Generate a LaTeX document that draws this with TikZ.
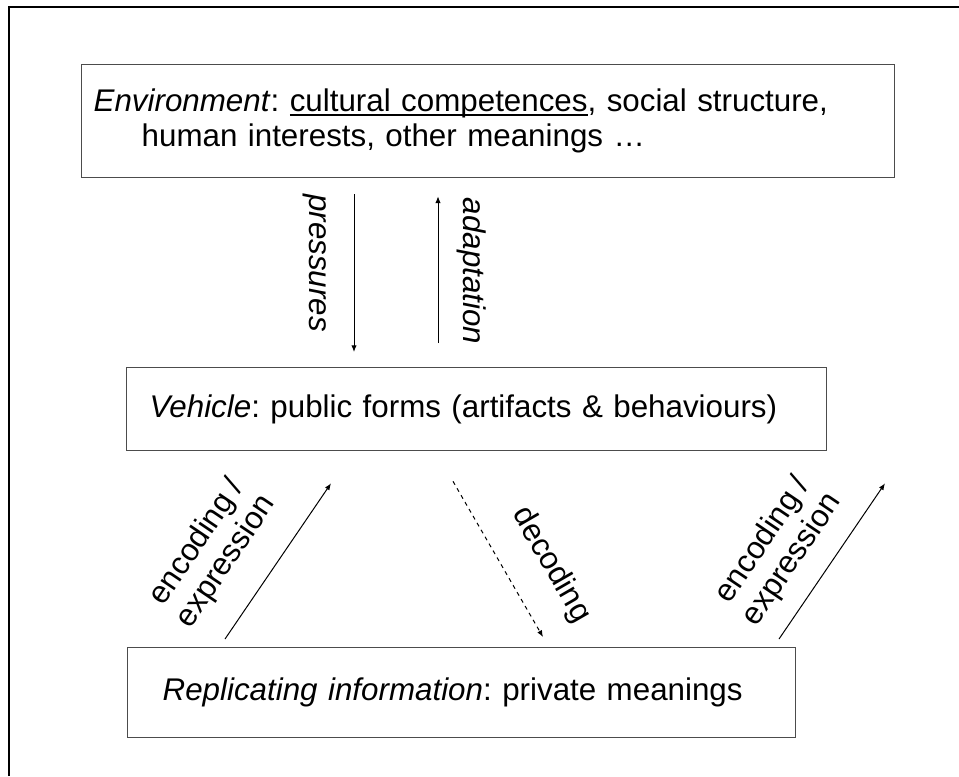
\documentclass[tikz,border=0pt]{standalone}
\usepackage{fontspec}
\setmainfont{Liberation Sans}
\usetikzlibrary{arrows.meta}
\frenchspacing
\newcommand{\ulined}[1]{\sbox0{#1}\rlap{\rule[-3pt]{\wd0}{1.1pt}}\usebox0}

\begin{document}
\begin{tikzpicture}[x=0.75pt,y=-0.75pt,
				every node/.style={font=\fontsize{23.5}{26.25}\selectfont},
				box/.style={draw=black!70,line width=1pt,rectangle,inner ysep=0pt,align=left,anchor=north west},
				lbl/.style={inner sep=0pt,align=center},
				link/.style={-{Latex[length=5pt,width=4pt]},line width=0.75pt}]
				\useasboundingbox (0,0) rectangle (959,776);
				\draw[line width=1.5pt] (9,776) -- (9,7) -- (959,7);

				\node (env)     [box,inner xsep=9pt,text width=591.75pt,minimum height=84.75pt]      at (81,64)
					{\textit{Environment}: \ulined{cultural competences}, social structure,\\\hspace*{36pt}human interests, other meanings …};
				\node (vehicle) [box,inner xsep=17.25pt,text width=490.5pt,minimum height=62.25pt]   at (126,367)
					{\textit{Vehicle}: public forms (artifacts \& behaviours)};
				\node (info)    [box,inner xsep=26.25pt,text width=448.5pt,minimum height=67.5pt]    at (127,647)
					{\textit{Replicating information}: private meanings};

				\node (pres)  [lbl,rotate=-90] at (315,263) {\textit{pressures}};
				\node (adapt) [lbl,rotate=-90] at (472,271) {\textit{adaptation}};
				\node (encl)  [lbl,rotate=56]  at (212,552) {encoding /\\expression};
				\node (dec)   [lbl,rotate=-60] at (551,565) {decoding};
				\node (encr)  [lbl,rotate=56]  at (778,550) {encoding /\\expression};

				\draw[link]        ([shift={(273,16)}]env.south west)       -- ([shift={(228,-15)}]vehicle.north west);
				\draw[link]        ([shift={(312,-24)}]vehicle.north west)  -- ([shift={(357,18)}]env.south west);
				\draw[link]        ([shift={(98,-8)}]info.north west)       -- ([shift={(205,32)}]vehicle.south west);
				\draw[link,dashed] ([shift={(327,30)}]vehicle.south west)   -- ([shift={(416,-10)}]info.north west);
				\draw[link]        ([shift={(652,-8)}]info.north west)      -- ([shift={(759,32)}]vehicle.south west);
			\end{tikzpicture}
\end{document}
